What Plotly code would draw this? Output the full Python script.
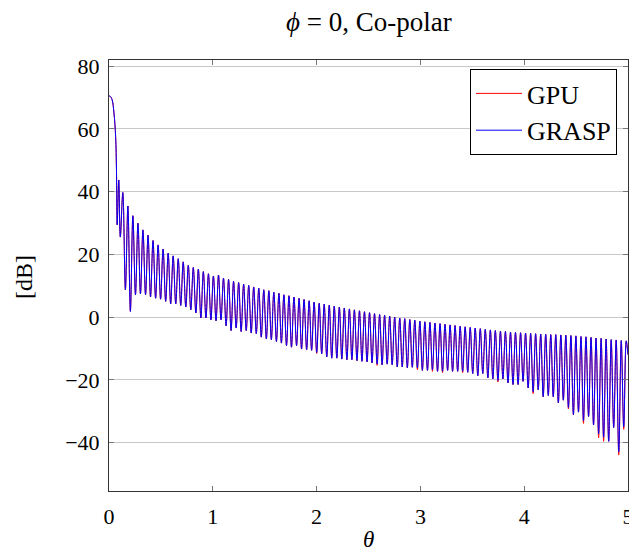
import plotly.graph_objects as go

# ---- data ----
main_lobe_theta = [0.0, 0.010, 0.029, 0.048, 0.064, 0.072]
main_lobe_db = [70.5, 70.4, 69.4, 65.0, 57.5, 46.9]

null_theta = [0.079, 0.109, 0.158, 0.206, 0.255, 0.303, 0.352, 0.400, 0.449, 0.497,
              0.546, 0.594, 0.643, 0.691, 0.740, 0.788, 0.837, 0.885, 0.934, 0.982,
              1.031, 1.079, 1.128, 1.176, 1.225, 1.273, 1.322, 1.370, 1.419, 1.467,
              1.516, 1.564, 1.613, 1.661, 1.710, 1.758, 1.807, 1.855, 1.904, 1.952,
              2.001, 2.049, 2.098, 2.146, 2.195, 2.243, 2.292, 2.340, 2.389, 2.437,
              2.486, 2.534, 2.583, 2.631, 2.680, 2.728, 2.777, 2.825, 2.874, 2.922,
              2.971, 3.019, 3.068, 3.116, 3.165, 3.213, 3.262, 3.310, 3.359, 3.407,
              3.456, 3.504, 3.553, 3.601, 3.650, 3.698, 3.747, 3.795, 3.844, 3.892,
              3.941, 3.989, 4.038, 4.086, 4.135, 4.183, 4.232, 4.280, 4.329, 4.377,
              4.426, 4.474, 4.523, 4.571, 4.620, 4.668, 4.717, 4.765, 4.814, 4.862,
              4.911, 4.959]

grasp_null_db = [29.4, 25.5, 8.7, 1.8, 7.1, 7.4, 7.1, 6.4, 6.0, 5.7,
                 5.0, 4.2, 4.2, 3.7, 3.2, 2.3, 1.3, -0.3, -0.3, -0.9,
                 -1.2, -0.9, -2.8, -4.3, -3.5, -4.6, -4.3, -5.1, -5.3, -6.4,
                 -7.0, -7.2, -7.8, -8.3, -9.1, -9.6, -9.1, -10.2, -10.4, -10.6,
                 -11.3, -11.7, -12.7, -13.1, -13.1, -13.4, -13.6, -13.6, -13.9, -14.1,
                 -14.3, -14.6, -15.0, -15.2, -15.0, -15.2, -15.9, -15.9, -16.2, -16.0,
                 -16.2, -17.0, -17.0, -16.8, -17.3, -17.3, -17.0, -17.3, -17.3, -17.3,
                 -17.6, -18.0, -18.7, -18.0, -19.4, -19.7, -20.2, -19.7, -21.0, -21.5,
                 -21.5, -20.5, -22.6, -23.8, -23.2, -25.4, -25.0, -25.4, -27.4, -26.5,
                 -28.8, -31.1, -30.3, -33.0, -31.7, -34.4, -37.2, -38.3, -39.6, -35.2,
                 -43.0, -35.0]

# GPU nulls that differ (deeper) from GRASP: lobe index -> dB
gpu_null_diff = {40: -11.6, 52: -15.4, 60: -16.8, 63: -17.3, 65: -17.7, 69: -17.7,
                 76: -20.7, 83: -24.4, 90: -29.3, 93: -33.9, 96: -38.5, 97: -39.6,
                 100: -44.0, 101: -35.8}

peak_theta = [0.094, 0.133, 0.182, 0.230, 0.279, 0.327, 0.376, 0.424, 0.473, 0.521,
              0.570, 0.618, 0.667, 0.715, 0.764, 0.812, 0.861, 0.909, 0.958, 1.006,
              1.055, 1.103, 1.152, 1.200, 1.249, 1.297, 1.346, 1.394, 1.443, 1.491,
              1.540, 1.588, 1.637, 1.685, 1.734, 1.782, 1.831, 1.879, 1.928, 1.976,
              2.025, 2.073, 2.122, 2.170, 2.219, 2.267, 2.316, 2.364, 2.413, 2.461,
              2.510, 2.558, 2.607, 2.655, 2.704, 2.752, 2.801, 2.849, 2.898, 2.946,
              2.995, 3.043, 3.092, 3.140, 3.189, 3.237, 3.286, 3.334, 3.383, 3.431,
              3.480, 3.528, 3.577, 3.625, 3.674, 3.722, 3.771, 3.819, 3.868, 3.916,
              3.965, 4.013, 4.062, 4.110, 4.159, 4.207, 4.256, 4.304, 4.353, 4.401,
              4.450, 4.498, 4.547, 4.595, 4.644, 4.692, 4.741, 4.789, 4.838, 4.886,
              4.935, 4.983]

peak_db = [43.7, 39.7, 35.4, 32.3, 29.9, 27.8, 26.1, 24.4, 23.0, 21.7,
           20.4, 19.5, 18.6, 17.6, 16.5, 15.8, 15.3, 14.5, 13.8, 13.1,
           13.4, 12.4, 12.0, 11.4, 11.0, 10.5, 10.1, 9.6, 9.2, 8.7,
           8.4, 7.9, 7.6, 7.1, 6.8, 6.4, 6.0, 5.6, 5.2, 4.8,
           4.4, 4.1, 3.8, 3.5, 3.2, 2.9, 2.6, 2.3, 2.0, 1.7,
           1.4, 1.1, 0.8, 0.6, 0.3, 0.0, -0.3, -0.5, -0.8, -1.0,
           -1.3, -1.5, -1.7, -1.9, -2.1, -2.3, -2.5, -2.7, -2.9, -3.1,
           -3.3, -3.5, -3.7, -3.9, -4.1, -4.3, -4.5, -4.6, -4.8, -4.9,
           -5.0, -5.1, -5.2, -5.3, -5.4, -5.5, -5.6, -5.6, -5.7, -5.8,
           -5.9, -6.0, -6.2, -6.3, -6.5, -6.7, -6.8, -7.0, -7.2, -7.3,
           -7.5, -7.6]

end_theta = [5.0]
end_db = [-12.0]

x_ticks = [0, 1, 2, 3, 4, 5]
y_ticks = [-40, -20, 0, 20, 40, 60, 80]


def build(nulls):
    xs = list(main_lobe_theta)
    ys = list(main_lobe_db)
    for nt, nv, pt, pv in zip(null_theta, nulls, peak_theta, peak_db):
        xs += [nt, pt]
        ys += [nv, pv]
    xs += end_theta
    ys += end_db
    return xs, ys


gpu_null_db = [gpu_null_diff.get(i, v) for i, v in enumerate(grasp_null_db)]
gx, gy = build(gpu_null_db)
bx, by = build(grasp_null_db)

SERIF = "Liberation Serif, Times New Roman, serif"

fig = go.Figure()
fig.add_trace(go.Scatter(x=gx, y=gy, mode="lines", name="GPU",
                         line=dict(color="#ff0000", width=1, shape="spline", smoothing=1.0)))
fig.add_trace(go.Scatter(x=bx, y=by, mode="lines", name="GRASP",
                         line=dict(color="#0000ff", width=1, shape="spline", smoothing=1.0)))

# The page body adds an 8px offset; layout is given in window pixels.
OFF = 8
W, H = 637 - OFF, 555 - OFF
L, R, T, B = 109, 628, 60, 491          # plot area in window pixels
pw, ph = R - L, B - T

fig.update_layout(
    width=W, height=H,
    margin=dict(l=L - OFF, r=W - (R - OFF), t=T - OFF, b=H - (B - OFF), autoexpand=False),
    paper_bgcolor="white", plot_bgcolor="white",
    font=dict(family=SERIF, size=22, color="black"),
    showlegend=True,
    legend=dict(x=(617 - L) / pw, y=(B - 69) / ph, xanchor="right", yanchor="top",
                bgcolor="white", bordercolor="black", borderwidth=1,
                font=dict(family=SERIF, size=26), itemwidth=46,
                tracegroupgap=0),
    annotations=[
        dict(text="<i>ϕ</i> = 0, Co-polar", xref="paper", yref="paper",
             x=0.5, y=(B - 22) / ph, xanchor="center", yanchor="middle",
             showarrow=False, font=dict(family=SERIF, size=27)),
        dict(text="[dB]", xref="paper", yref="paper", textangle=-90,
             x=(24 - L) / pw, y=(B - 277) / ph, xanchor="center", yanchor="middle",
             showarrow=False, font=dict(family=SERIF, size=24)),
        dict(text="<i>θ</i>", xref="paper", yref="paper",
             x=0.5, y=(B - 554) / ph, xanchor="center", yanchor="bottom",
             showarrow=False, font=dict(family=SERIF, size=23)),
    ],
)

fig.update_xaxes(range=[0, 5], tickvals=x_ticks, ticktext=[str(v) for v in x_ticks],
                 showgrid=False, zeroline=False, automargin=False,
                 showline=True, linecolor="#333333", linewidth=1, mirror="ticks",
                 ticks="inside", ticklen=5, tickcolor="#777777",
                 ticklabelstandoff=6, tickfont=dict(size=22))
fig.update_yaxes(range=[-55.45, 81.95], tickvals=y_ticks,
                 ticktext=[str(v).replace("-", "−") for v in y_ticks],
                 showgrid=True, gridcolor="#c8c8c8", gridwidth=1, zeroline=False,
                 automargin=False,
                 showline=True, linecolor="#333333", linewidth=1, mirror="ticks",
                 ticks="inside", ticklen=5, tickcolor="#777777",
                 ticklabelstandoff=4, tickfont=dict(size=22))

fig.write_html("out.html")
